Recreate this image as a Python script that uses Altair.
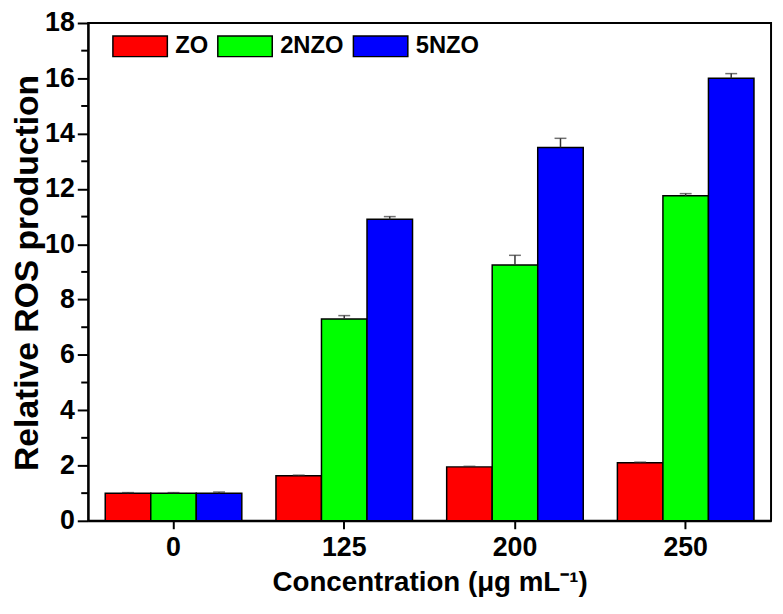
import altair as alt
import pandas as pd

# ---- data ----
concentrations = ["0", "125", "200", "250"]
series = ["ZO", "2NZO", "5NZO"]
colors = ["#FF0000", "#00FF00", "#0000FF"]

zo_vals = [1.0, 1.63, 1.95, 2.1]
zo_errs = [0.02, 0.02, 0.02, 0.02]
nzo2_vals = [1.0, 7.3, 9.25, 11.75]
nzo2_errs = [0.02, 0.12, 0.35, 0.08]
nzo5_vals = [1.0, 10.9, 13.5, 16.0]
nzo5_errs = [0.04, 0.10, 0.33, 0.17]

y_major = [0, 2, 4, 6, 8, 10, 12, 14, 16, 18]
y_minor = [1, 3, 5, 7, 9, 11, 13, 15, 17]

rows = []
for name, vals, errs in [("ZO", zo_vals, zo_errs), ("2NZO", nzo2_vals, nzo2_errs), ("5NZO", nzo5_vals, nzo5_errs)]:
    for c, v, e in zip(concentrations, vals, errs):
        rows.append({"conc": c, "series": name, "value": v, "top": v + e})
df = pd.DataFrame(rows)
minor_df = pd.DataFrame({"m": y_minor})

FONT = "Liberation Sans"

x_enc = alt.X("conc:N", sort=concentrations,
              scale=alt.Scale(paddingInner=0.2, paddingOuter=0.1),
              axis=alt.Axis(title="Concentration (μg mL⁻¹)", labelAngle=0,
                            tickSize=8, tickWidth=2, labelPadding=6,
                            titleY=62, titleBaseline="middle"))
xoff = alt.XOffset("series:N", sort=series, scale=alt.Scale(paddingInner=0, paddingOuter=0))
y_scale = alt.Scale(domain=[0, 18], nice=False)

bars = alt.Chart(df).mark_bar(stroke="black", strokeWidth=1.5).encode(
    x=x_enc,
    xOffset=xoff,
    y=alt.Y("value:Q", scale=y_scale,
            axis=alt.Axis(title="Relative ROS production", values=y_major,
                          tickSize=11, tickWidth=2, labelPadding=3, grid=False,
                          titleX=-61, titleY=252, titleAlign="center",
                          titleBaseline="middle", titleAngle=-90, titleFontSize=34)),
    color=alt.Color("series:N", sort=series,
                    scale=alt.Scale(domain=series, range=colors),
                    legend=alt.Legend(title=None, orient="none", direction="horizontal",
                                      legendX=24, legendY=-5,
                                      symbolType="M-1,-0.38L1,-0.38L1,0.38L-1,0.38Z",
                                      symbolSize=3025, symbolStrokeColor="black",
                                      symbolStrokeWidth=1.5, symbolOpacity=1,
                                      labelFont=FONT, labelFontSize=24, labelFontWeight="bold",
                                      labelColor="black", labelOffset=7, columnPadding=6,
                                      padding=0)),
)

err_rules = alt.Chart(df).mark_rule(color="#333333", strokeWidth=1.5).encode(
    x=alt.X("conc:N", sort=concentrations),
    xOffset=xoff,
    y=alt.Y("value:Q", scale=y_scale),
    y2="top:Q",
)
err_caps = alt.Chart(df).mark_tick(color="#333333", thickness=1.5, size=12, orient="horizontal").encode(
    x=alt.X("conc:N", sort=concentrations),
    xOffset=xoff,
    y=alt.Y("top:Q", scale=y_scale),
)

minor_ticks = alt.Chart(minor_df).mark_rule(color="black", strokeWidth=2).encode(
    y=alt.Y("m:Q", scale=y_scale),
    x=alt.value(-7),
    x2=alt.value(0),
)

chart = alt.layer(bars, err_rules, err_caps, minor_ticks).properties(
    width=690, height=503,
    autosize=alt.AutoSizeParams(type="none"),
    padding={"left": 81, "top": 12, "right": 4, "bottom": 90},
).configure_view(
    stroke="black", strokeWidth=2
).configure_axis(
    domainColor="black", domainWidth=2, tickColor="black",
    labelFont=FONT, labelFontSize=27, labelFontWeight="bold", labelColor="black",
    titleFont=FONT, titleFontSize=28, titleFontWeight="bold", titleColor="black",
)

chart.save("out.html", embed_options={"renderer": "svg", "actions": False})
